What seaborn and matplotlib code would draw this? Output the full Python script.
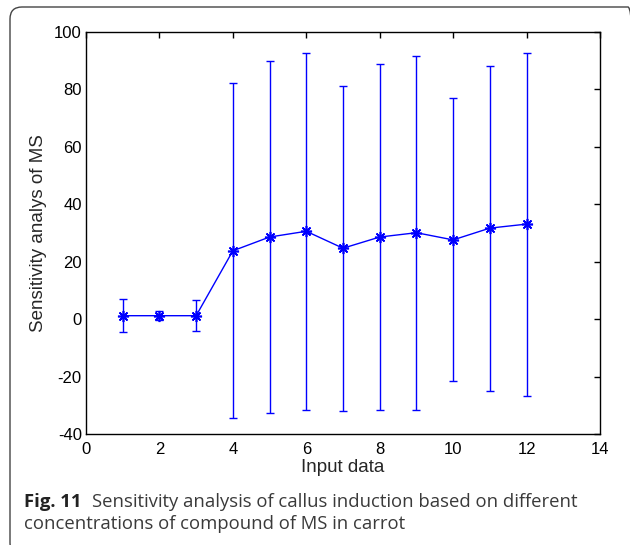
import numpy as np
import pandas as pd
import matplotlib
matplotlib.use('Agg')
import matplotlib.pyplot as plt
import seaborn as sns
from matplotlib.patches import FancyBboxPatch
from matplotlib.transforms import IdentityTransform

# values
input_data = [1, 2, 3, 4, 5, 6, 7, 8, 9, 10, 11, 12]
sensitivity = [1.2, 1.2, 1.2, 23.8, 28.6, 30.6, 24.7, 28.6, 30.1, 27.6, 31.7, 33.1]
spread = [5.7, 1.5, 5.5, 58.4, 61.2, 62.2, 56.6, 60.2, 61.6, 49.3, 56.6, 59.7]
x_ticks = [0, 2, 4, 6, 8, 10, 12, 14]
y_ticks = [-40, -20, 0, 20, 40, 60, 80, 100]

df = pd.DataFrame({'input': input_data, 'sens': sensitivity, 'err': spread})

sns.set_style("white")
plt.rcParams['font.family'] = ['Liberation Sans', 'DejaVu Sans']
plt.rcParams['axes.unicode_minus'] = False

fig = plt.figure(figsize=(6.3, 5.45), dpi=100)
ax = fig.add_axes([86 / 630, 1 - 434 / 545, 514 / 630, 402 / 545])

blue = '#0000ff'
ax.errorbar(df['input'], df['sens'], yerr=df['err'], fmt='none',
            ecolor=blue, elinewidth=1.0, capsize=3, capthick=1.0)
# matlab style asterisk marker (8 arms)
sns.lineplot(data=df, x='input', y='sens', ax=ax, color=blue, linewidth=1.0,
             marker=(8, 2, 0), markersize=8, markeredgewidth=1.2,
             markeredgecolor=blue, markerfacecolor=blue)

ax.set_xlim(0, 14)
ax.set_ylim(-40, 100)
ax.set_xticks(x_ticks)
ax.set_yticks(y_ticks)
ax.tick_params(direction='in', length=4.5, width=1.0, top=True, right=True,
               labelsize=12, colors='black', pad=3)
ax.tick_params(axis='x', pad=6)
for s in ax.spines.values():
    s.set_visible(True)
    s.set_color('black')
    s.set_linewidth(1.0)
ax.set_xlabel('Input data', fontsize=13.5, labelpad=1)
ax.set_ylabel('Sensitivity analys of MS', fontsize=13.5, labelpad=5)

# caption below the plot
cap = dict(fontsize=13.3, color='#3a3a3a', family=['Open Sans', 'DejaVu Sans'])
t = fig.text(24 / 630, 1 - 507 / 545, 'Fig. 11', fontweight='bold', color='#222222',
             fontsize=13.3, family=['Open Sans', 'DejaVu Sans'], va='baseline')
fig.canvas.draw()
bb = t.get_window_extent()
fig.text((bb.x1 + 11) / 630, 1 - 507 / 545,
         'Sensitivity analysis of callus induction based on different', va='baseline', **cap)
fig.text(24 / 630, 1 - 529 / 545, 'concentrations of compound of MS in carrot',
         va='baseline', **cap)

# rounded frame around the figure
frame = FancyBboxPatch((10, -10), 630, 548, boxstyle='round,pad=0,rounding_size=12',
                       transform=IdentityTransform(), fill=False,
                       edgecolor='#444444', linewidth=1.0)
fig.patches.append(frame)

fig.savefig('out.png', dpi=100)
